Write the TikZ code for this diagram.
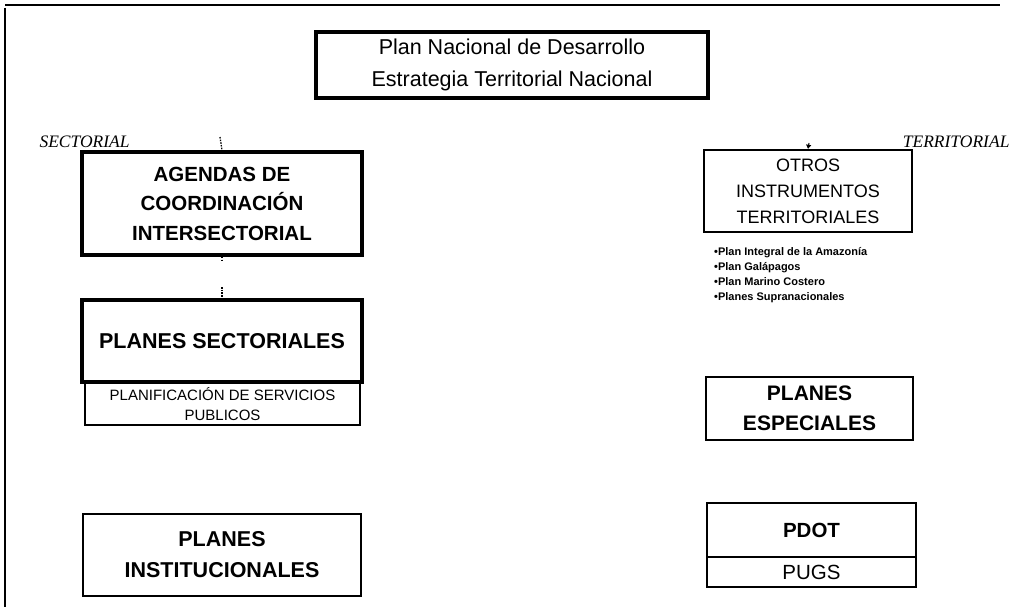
\documentclass[tikz,border=0pt]{standalone}
\usepackage{fontspec}
\setmainfont{Liberation Sans}
\newfontfamily\serifit{Liberation Serif}
\usetikzlibrary{arrows.meta}
\begin{document}
\begin{tikzpicture}[x=1pt,y=-1pt,
  box/.style={draw=black,rectangle,inner sep=0pt,align=center,fill=white},
  thickbox/.style={box,line width=3.8pt},
  medbox/.style={box,line width=2.4pt},
  thinbox/.style={box,line width=1.3pt},
  stub/.style={draw=black,line width=1.3pt,dash pattern=on 1.5pt off 1.2pt},
  side/.style={font=\serifit\itshape\fontsize{17.5}{20}\selectfont}]
\useasboundingbox (0,0) rectangle (1019,607);
% frame
\draw[line width=1.2pt] (5,5) -- (1000,5);
\draw[line width=1.6pt] (5,8) -- (5,607);
% top
\node[box,line width=3.4pt,minimum width=392pt,minimum height=66pt,
  font=\fontsize{21.5}{32}\selectfont] (pnd) at (512,65)
  {Plan Nacional de Desarrollo\\Estrategia Territorial Nacional};
\node[side,anchor=west] (sec) at (36,142) {SECTORIAL};
\node[side,anchor=east] (ter) at (1013,142) {TERRITORIAL};
% left column
\node[thickbox,minimum width=280pt,minimum height=103pt,
  font=\bfseries\fontsize{20.5}{29.5}\selectfont] (age) at (222,203.5)
  {AGENDAS DE\\COORDINACIÓN\\INTERSECTORIAL};
\node[thickbox,minimum width=280pt,minimum height=82pt,
  font=\bfseries\fontsize{21.5}{26}\selectfont] (sect) at (222,341)
  {PLANES SECTORIALES};
\node[thinbox,minimum width=275pt,minimum height=42pt,
  font=\fontsize{15}{20}\selectfont] (serv) at (222.5,404)
  {PLANIFICACIÓN DE SERVICIOS\\PUBLICOS};
\node[medbox,minimum width=278pt,minimum height=82pt,
  font=\bfseries\fontsize{21.5}{31}\selectfont] (inst) at (222,555)
  {PLANES\\INSTITUCIONALES};
% right column
\node[medbox,minimum width=208pt,minimum height=82pt,
  font=\fontsize{18}{26}\selectfont] (otros) at (808,191)
  {OTROS\\INSTRUMENTOS\\TERRITORIALES};
\node[anchor=north west,align=left,inner sep=0pt,
  font=\bfseries\fontsize{11}{15}\selectfont] (lista) at (714,247)
  {•Plan Integral de la Amazonía\\•Plan Galápagos\\•Plan Marino Costero\\•Planes Supranacionales};
\node[box,line width=2pt,minimum width=207pt,minimum height=63pt,
  font=\bfseries\fontsize{21}{30}\selectfont] (esp) at (809.5,408.5)
  {PLANES\\ESPECIALES};
\node[medbox,minimum width=209pt,minimum height=54pt,
  font=\bfseries\fontsize{20.5}{24}\selectfont] (pdot) at (811.5,530)
  {PDOT};
\node[box,line width=2pt,minimum width=209pt,minimum height=30pt,
  font=\fontsize{20.5}{24}\selectfont] (pugs) at (811.5,572)
  {PUGS};
% connector fragments
\coordinate (c1) at (220,137);
\coordinate (c2) at (222,262);
\coordinate (c3) at (222,287);
\coordinate (c4) at (809,143);
\draw[stub] (c1) -- (age.north);
\draw[stub] (age.south) -- (c2);
\draw[stub] (c3) -- (sect.north);
\draw[line width=1pt,-{Triangle[length=4pt,width=5pt]}] (c4) -- (otros.north);
\end{tikzpicture}
\end{document}
